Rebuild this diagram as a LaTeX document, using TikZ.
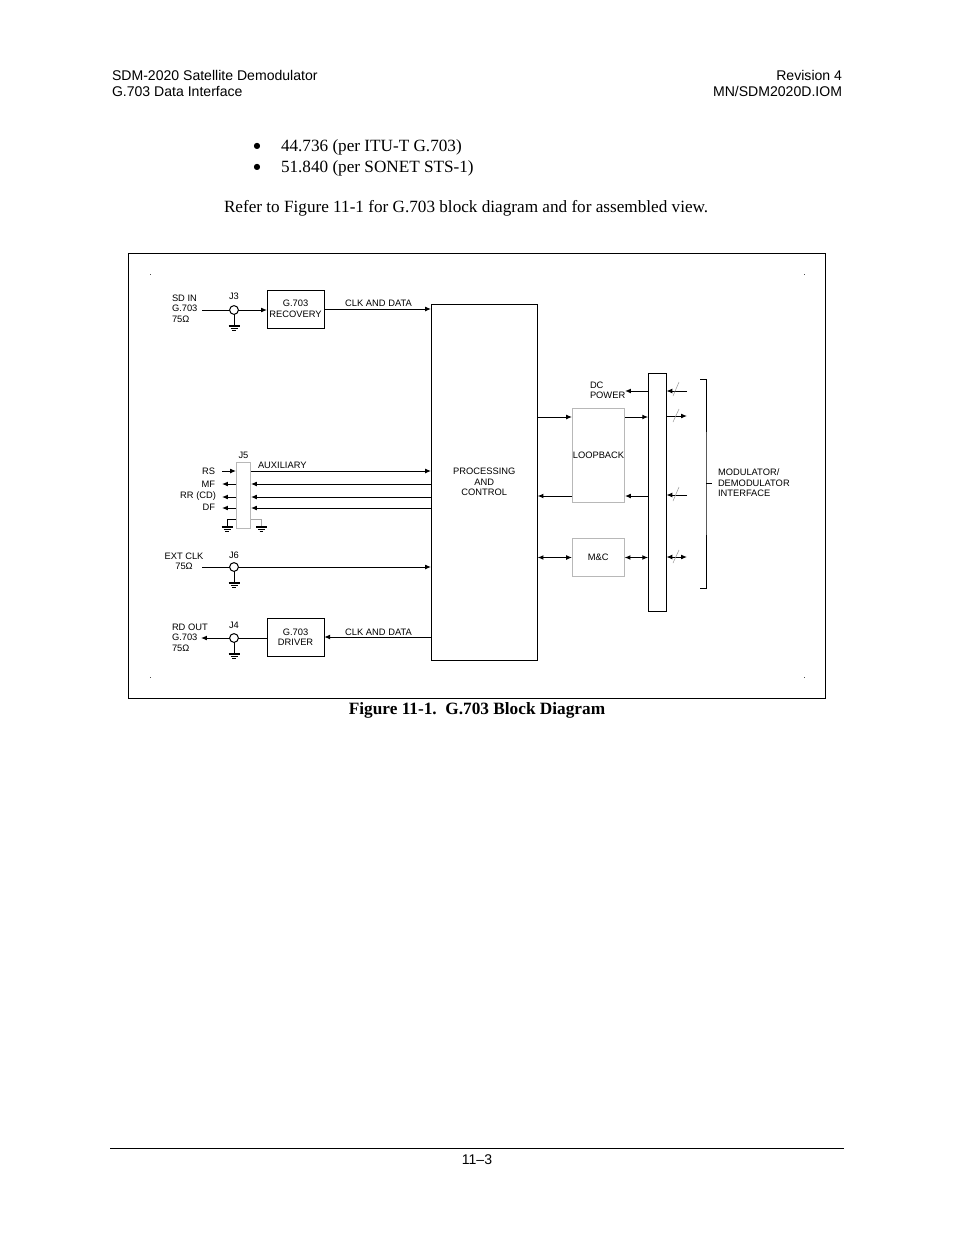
\documentclass[tikz,border=0pt]{standalone}
\usepackage{fontspec}
\setmainfont{Liberation Serif}
\newfontfamily\arialf{Liberation Sans}
\newfontfamily\dejaf{DejaVu Sans}
\usetikzlibrary{arrows.meta}
\tikzset{
  x=0.75pt,y=-0.75pt,
  wire/.style={line width=0.75pt,black},
  sig/.style={wire,-{Latex[length=4.4pt,width=3.6pt]}},
  dsig/.style={wire,{Latex[length=4.4pt,width=3.6pt]}-{Latex[length=4.4pt,width=3.6pt]}},
  grayline/.style={line width=0.6pt,black!35},
  slash/.style={line width=0.4pt,black!40},
  boxb/.style={draw=black,line width=0.75pt,inner sep=0pt,outer sep=0pt,align=center,font=\diag},
  boxg/.style={draw=black!28,line width=0.75pt,inner sep=0pt,outer sep=0pt,align=center,font=\diag},
  lbl/.style={inner sep=0pt,outer sep=0pt,font=\diag},
  lblr/.style={lbl,align=right,anchor=east},
  lbll/.style={lbl,align=left,anchor=west},
  lblc/.style={lbl,align=center},
  jack/.style={circle,draw=black,line width=0.75pt,minimum size=6.6pt,inner sep=0pt,outer sep=0pt},
  hdr/.style={inner sep=0pt,outer sep=0pt,font=\hdrf},
  bodyt/.style={inner sep=0pt,outer sep=0pt,font=\bodyf},
  bullt/.style={inner sep=0pt,outer sep=0pt,font=\bulf,anchor=base},
  gnd/.pic={
    \draw[line width=0.9pt] (-5.5,0)--(5.5,0);
    \draw[line width=0.9pt] (-3.5,2.3)--(3.5,2.3);
    \draw[line width=0.9pt] (-1.8,4.6)--(1.8,4.6);
  }
}
\newcommand{\diag}{\arialf\fontsize{7}{7.9}\selectfont}
\newcommand{\hdrf}{\arialf\fontsize{10.55}{12}\selectfont}
\newcommand{\bodyf}{\fontsize{12.88}{14}\selectfont}
\newcommand{\bulf}{\dejaf\fontsize{6}{7}\selectfont}
\begin{document}
\begin{tikzpicture}
\useasboundingbox (0,0) rectangle (954,1235);
% page text
\node[hdr,anchor=base west] (h1) at (112,80) {SDM-2020 Satellite Demodulator};
\node[hdr,anchor=base west] (h2) at (112,96) {G.703 Data Interface};
\node[hdr,anchor=base east] (h3) at (842,80) {Revision 4};
\node[hdr,anchor=base east] (h4) at (842,96) {MN/SDM2020D.IOM};
\node[bullt] (b1) at (257,148) {●};
\node[bullt] (b2) at (257,169) {●};
\node[bodyt,anchor=base west] (t1) at (281,151) {44.736 (per ITU-T G.703)};
\node[bodyt,anchor=base west] (t2) at (281,172) {51.840 (per SONET STS-1)};
\node[bodyt,anchor=base west] (t3) at (224,212) {Refer to Figure 11-1 for G.703 block diagram and for assembled view.};
\node[inner sep=0pt,outer sep=0pt,font=\fontsize{12.95}{14}\selectfont\bfseries,anchor=base] (cap) at (477,714) {Figure 11-1.\ \ G.703 Block Diagram};
\coordinate (fl) at (110,1148); \coordinate (fr) at (844,1148);
\draw[line width=0.75pt] (fl)--(fr);
\node[hdr,anchor=base] (pg) at (477,1164) {11–3};
% frame
\node[draw=black,line width=0.75pt,inner sep=0pt,outer sep=0pt,minimum width=523pt,minimum height=333.75pt] (frame) at (477,475.5) {};
\node[fill=black!70,inner sep=0pt,minimum size=0.6pt] (d1) at (150,274) {};
\node[fill=black!70,inner sep=0pt,minimum size=0.6pt] (d2) at (804,274) {};
\node[fill=black!70,inner sep=0pt,minimum size=0.6pt] (d3) at (150,677) {};
\node[fill=black!70,inner sep=0pt,minimum size=0.6pt] (d4) at (804,677) {};
% blocks
\node[boxb,minimum width=79.9pt,minimum height=267pt] (proc) at (484.3,482) {PROCESSING\\AND\\CONTROL};
\node[boxb,minimum width=42.9pt,minimum height=28.5pt] (rec) at (295.6,309) {G.703\\RECOVERY};
\node[boxb,minimum width=42.9pt,minimum height=28.5pt] (drv) at (295.6,637) {G.703\\DRIVER};
\node[boxg,minimum width=39.7pt,minimum height=70.5pt] (loop) at (598.5,455) {LOOPBACK};
\node[boxg,minimum width=39.4pt,minimum height=29.2pt] (mc) at (598.3,557.5) {M\&C};
\node[boxb,minimum width=13.7pt,minimum height=178.5pt] (bus) at (657.3,492) {};
\node[boxg,minimum width=11.2pt,minimum height=50.2pt] (j5) at (243.5,495.5) {};
\node[jack] (j3) at (234,310) {};
\node[jack] (j6) at (234,567) {};
\node[jack] (j4) at (234,638) {};
% labels
\node[lblc] (lj3) at (234,296) {J3};
\node[lblc] (lj5) at (243.5,455) {J5};
\node[lblc] (lj6) at (234,555) {J6};
\node[lblc] (lj4) at (234,625) {J4};
\node[lbll] (lsd) at (172,308.5) {SD IN\\G.703\\75Ω};
\node[lbll] (lrd) at (172,637.5) {RD OUT\\G.703\\75Ω};
\node[lblc] (lext) at (184,561.5) {EXT CLK\\75Ω};
\node[lblc] (lc1) at (378.5,303) {CLK AND DATA};
\node[lblc] (lc2) at (378.5,632) {CLK AND DATA};
\node[lbll] (laux) at (258,465) {AUXILIARY};
\node[lblr] (lrs) at (215,471) {RS};
\node[lblr] (lmf) at (215,484) {MF};
\node[lblr] (lrr) at (216,496) {RR (CD)};
\node[lblr] (ldf) at (215,507) {DF};
\node[lbll] (ldc) at (590,390.5) {DC\\POWER};
\node[lbll] (lmod) at (718,483) {MODULATOR/\\DEMODULATOR\\INTERFACE};
% free ends
\coordinate (sdin) at (202,310);
\coordinate (ext) at (202,567);
\coordinate (rdo) at (201,638);
\coordinate (grs) at (222,471);
\coordinate (gmf) at (222,484);
\coordinate (grr) at (222,497);
\coordinate (gdf) at (222,508);
\coordinate (e1) at (687,391);
\coordinate (e2) at (687,416);
\coordinate (e3) at (687,495);
\coordinate (e4) at (687,557);
\coordinate (dcp) at (625,391);
\coordinate (g3) at (234,326);
\coordinate (g6) at (234,583);
\coordinate (g4) at (234,654);
\coordinate (g5l) at (227,527);
\coordinate (g5r) at (261.5,527);
\coordinate (y5) at (0,519);
\coordinate (y6) at (0,496);
\coordinate (y7) at (0,417);
% top row
\draw[wire] (sdin)--(j3.west);
\draw[sig] (j3.east)--(rec.west |- j3);
\draw[sig] (rec.east)--(proc.west |- rec);
\draw[wire] (j3.south)--(g3) pic {gnd};
% J5
\draw[sig] (grs)--(j5.west |- grs);
\draw[sig] (j5.east |- grs)--(proc.west |- grs);
\draw[sig] (j5.west |- gmf)--(gmf);
\draw[sig] (proc.west |- gmf)--(j5.east |- gmf);
\draw[sig] (j5.west |- grr)--(grr);
\draw[sig] (proc.west |- grr)--(j5.east |- grr);
\draw[sig] (j5.west |- gdf)--(gdf);
\draw[sig] (proc.west |- gdf)--(j5.east |- gdf);
\draw[wire] (j5.west |- y5)-|(g5l) pic {gnd};
\draw[grayline] (j5.east |- y5)-|(g5r);
\path (g5r) pic {gnd};
% J6
\draw[wire] (ext)--(j6.west);
\draw[sig] (j6.east)--(proc.west |- j6);
\draw[wire] (j6.south)--(g6) pic {gnd};
% J4
\draw[sig] (j4.west)--(rdo);
\draw[wire] (drv.west |- j4)--(j4.east);
\draw[sig] (proc.west |- drv)--(drv.east);
\draw[wire] (j4.south)--(g4) pic {gnd};
% right side
\draw[sig] (bus.west |- dcp)--(dcp);
\draw[sig] (proc.east |- y7)--(loop.west |- y7);
\draw[sig] (loop.east |- y7)--(bus.west |- y7);
\draw[sig] (bus.west |- y6)--(loop.east |- y6);
\draw[sig] (loop.west |- y6)--(proc.east |- y6);
\draw[dsig] (proc.east |- mc)--(mc.west);
\draw[dsig] (mc.east)--(bus.west |- mc);
\draw[sig] (e1)--(bus.east |- e1);
\draw[sig] (bus.east |- e2)--(e2);
\draw[sig] (e3)--(bus.east |- e3);
\draw[dsig] (bus.east |- e4)--(e4);
\draw[slash] (673,396)--(679,382);
\draw[slash] (673,422)--(679,409);
\draw[slash] (673,501)--(679,487);
\draw[slash] (673,563)--(679,550);
% bracket
\coordinate (bt) at (700,379); \coordinate (bb) at (700,588);
\coordinate (bm) at (706,483); \coordinate (bs) at (712,483);
\draw[wire] (bt)-|(bm)|-(bb);
\draw[wire] (bm)--(bs);
\end{tikzpicture}
\end{document}
